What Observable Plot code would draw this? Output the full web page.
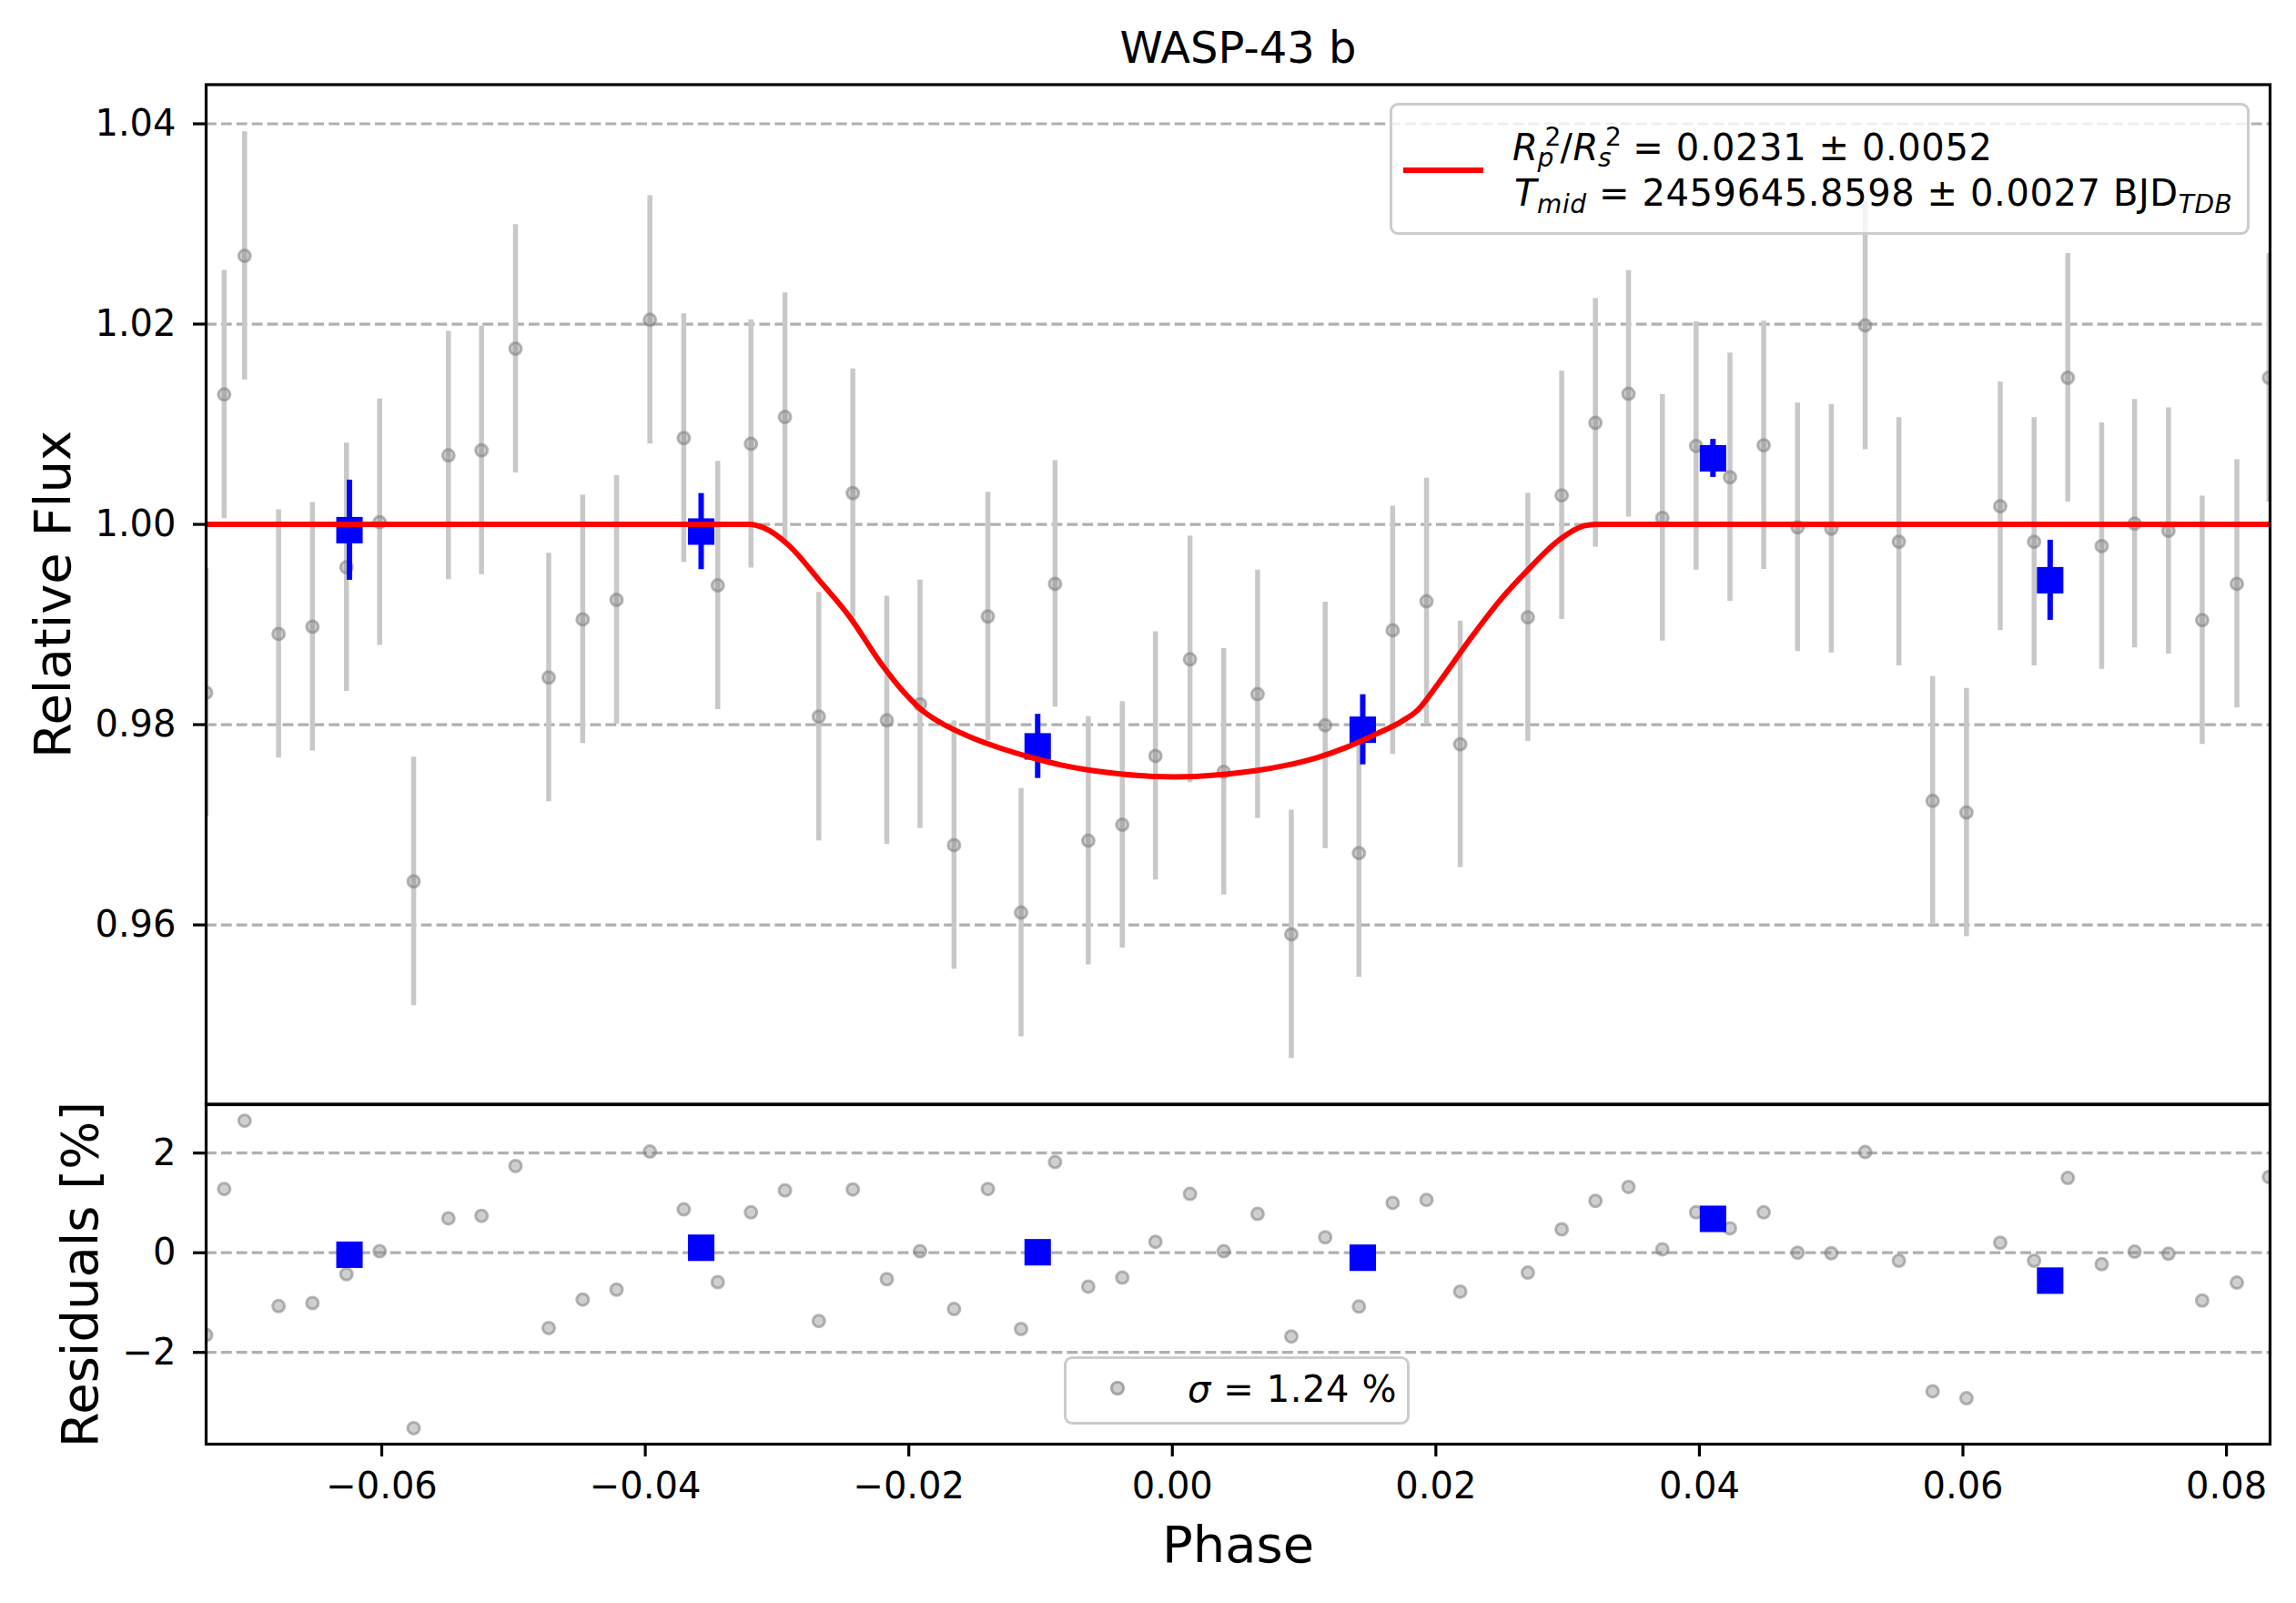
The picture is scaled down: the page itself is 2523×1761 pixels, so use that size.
<!DOCTYPE html>
<html>
<head>
<meta charset="utf-8">
<script src="https://cdn.jsdelivr.net/npm/d3@7"></script>
<script src="https://cdn.jsdelivr.net/npm/@observablehq/plot@0.6"></script>
<style>
html,body{margin:0;padding:0;background:#fff;overflow:hidden;}
#wrap{position:relative;width:2523px;height:1761px;font-family:"DejaVu Sans",sans-serif;overflow:hidden;background:#fff;}
#top,#bot{position:absolute;left:0;}
#top{top:0;}
#bot{top:1213px;}
.leg{position:absolute;box-sizing:border-box;border:3.2px solid #cccccc;border-radius:9px;background:rgba(255,255,255,0.8);}
.line{position:absolute;white-space:nowrap;font-size:40px;line-height:40px;letter-spacing:0.6px;color:#000;font-family:"DejaVu Sans",sans-serif;}
.it{font-style:italic;}
.ss{display:inline-block;position:relative;height:40px;width:24px;}
.ss span{position:absolute;font-size:28px;line-height:18px;}
.ss .sp{left:7px;top:6.3px;}
.ss .sb{left:-1px;top:28.5px;}
.sub{position:relative;top:8px;font-size:28px;line-height:0;}
</style>
</head>
<body>
<div id="wrap">
  <div id="top"></div>
  <div id="bot"></div>
</div>
<script>
// ---- data ----
const phase = [-0.07333, -0.07196, -0.07041, -0.06783, -0.06526, -0.06268, -0.06016, -0.05758, -0.05494, -0.05243,
  -0.04985, -0.04733, -0.04475, -0.04218, -0.03965, -0.03708, -0.03450, -0.03198, -0.02940, -0.02683,
  -0.02425, -0.02167, -0.01915, -0.01657, -0.01400, -0.01148, -0.00890, -0.00638, -0.00380, -0.00128,
  0.00134, 0.00390, 0.00647, 0.00903, 0.01160, 0.01416, 0.01672, 0.01929, 0.02185, 0.02698,
  0.02955, 0.03211, 0.03462, 0.03719, 0.03975, 0.04232, 0.04488, 0.04745, 0.05001, 0.05258,
  0.05514, 0.05770, 0.06027, 0.06283, 0.06540, 0.06796, 0.07053, 0.07303, 0.07560, 0.07816,
  0.08079, 0.08323];
const flux = [0.98319, 1.01297, 1.02681, 0.98906, 0.98978, 0.99572, 1.00022, 0.96435, 1.00688, 1.00739,
  1.01754, 0.98471, 0.99051, 0.99246, 1.02043, 1.00862, 0.99391, 1.00804, 1.01072, 0.98080,
  1.00312, 0.98043, 0.98203, 0.96797, 0.99080, 0.96123, 0.99406, 0.96841, 0.97000, 0.97688,
  0.98652, 0.97529, 0.98304, 0.95906, 0.97993, 0.96717, 0.98942, 0.99232, 0.97804, 0.99072,
  1.00290, 1.01014, 1.01304, 1.00065, 1.00783, 1.00471, 1.00790, 0.99971, 0.99957, 1.01986,
  0.99826, 0.97239, 0.97123, 1.00181, 0.99826, 1.01464, 0.99783, 1.00007, 0.99935, 0.99043,
  0.99406, 1.01464];
const fluxErr = [0.0124, 0.0124, 0.0124, 0.0124, 0.0124, 0.0124, 0.0123, 0.0124, 0.0124, 0.0124,
  0.0124, 0.0124, 0.0124, 0.0124, 0.0124, 0.0124, 0.0124, 0.0124, 0.0124, 0.0124,
  0.0124, 0.0124, 0.0124, 0.0124, 0.0124, 0.0124, 0.0123, 0.0124, 0.0123, 0.0124,
  0.0123, 0.0123, 0.0124, 0.0124, 0.0123, 0.0124, 0.0124, 0.0123, 0.0123, 0.0124,
  0.0124, 0.0124, 0.0123, 0.0123, 0.0124, 0.0124, 0.0124, 0.0124, 0.0124, 0.0124,
  0.0124, 0.0124, 0.0124, 0.0124, 0.0124, 0.0124, 0.0123, 0.0124, 0.0123, 0.0124,
  0.0124, 0.0124];
const resid = [-1.65, 1.28, 2.65, -1.07, -1.01, -0.43, 0.03, -3.52, 0.69, 0.74,
  1.74, -1.51, -0.94, -0.74, 2.03, 0.87, -0.59, 0.81, 1.25, -1.37,
  1.27, -0.53, 0.03, -1.13, 1.28, -1.53, 1.82, -0.68, -0.50, 0.22,
  1.18, 0.03, 0.78, -1.68, 0.31, -1.08, 1.00, 1.06, -0.78, -0.40,
  0.47, 1.04, 1.32, 0.07, 0.81, 0.49, 0.81, 0.00, -0.01, 2.02,
  -0.16, -2.78, -2.92, 0.20, -0.16, 1.50, -0.23, 0.02, -0.02, -0.96,
  -0.60, 1.52];

const binPhase = [-0.06245, -0.03576, -0.01022, 0.01445, 0.04103, 0.06662];
const binFlux = [0.99942, 0.99928, 0.97783, 0.97949, 1.00659, 0.99442];
const binErr = [0.0050, 0.0038, 0.0032, 0.0035, 0.0019, 0.0040];
const binResid = [-0.04, 0.10, 0.01, -0.10, 0.68, -0.56];

const modelPhase = [-0.07333, -0.03209, -0.03094, -0.02909, -0.02679, -0.02449, -0.02218, -0.02035, -0.01896, -0.01758,
  -0.01528, -0.01297, -0.01067, -0.00837, -0.00607, -0.00376, -0.00146, 0.00015, 0.00176, 0.00407,
  0.00637, 0.00867, 0.01098, 0.01328, 0.01558, 0.01742, 0.01858, 0.02019, 0.02249, 0.02479,
  0.02710, 0.02940, 0.03124, 0.03216, 0.08331];
const modelFlux = [1.0, 1.0, 0.99961, 0.99788, 0.99440, 0.99077, 0.98624, 0.98321, 0.98140, 0.98019,
  0.97874, 0.97762, 0.97671, 0.97595, 0.97541, 0.97505, 0.97483, 0.97479, 0.97483, 0.97505,
  0.97541, 0.97595, 0.97671, 0.97777, 0.97913, 0.98034, 0.98140, 0.98412, 0.98835, 0.99229,
  0.99561, 0.99849, 0.99985, 1.0, 1.0];

const xTicks = [-0.06, -0.04, -0.02, 0.00, 0.02, 0.04, 0.06, 0.08];
const yTicks = [0.96, 0.98, 1.00, 1.02, 1.04];
const rTicks = [-2, 0, 2];

// ---- tables ----
const pts = phase.map((p, i) => ({phase: p, flux: flux[i], err: fluxErr[i], resid: resid[i]}));
const bins = binPhase.map((p, i) => ({phase: p, flux: binFlux[i], err: binErr[i], resid: binResid[i]}));
const model = modelPhase.map((p, i) => ({phase: p, flux: modelFlux[i]}));

const W = 2523;
const xDomain = [-0.07333, 0.08331];
const gridStyle = {stroke: "#b0b0b0", strokeOpacity: 1, strokeWidth: 3.2, strokeDasharray: "11.8,5.1"};
const dotStyle = {r: 6.5, fill: "#808080", fillOpacity: 0.38, stroke: "#808080", strokeOpacity: 0.55, strokeWidth: 3, clip: true};
const baseStyle = {fontFamily: "DejaVu Sans", fontSize: "40px", background: "transparent", overflow: "visible", color: "black"};

const topPlot = Plot.plot({
  width: W, height: 1213,
  marginLeft: 226, marginRight: 29, marginTop: 92.5, marginBottom: 0.5,
  x: {domain: xDomain, axis: null},
  y: {domain: [0.9421, 1.04391], axis: null},
  style: baseStyle,
  marks: [
    Plot.gridY(yTicks, gridStyle),
    Plot.ruleX(pts, {x: "phase", y1: d => d.flux - d.err, y2: d => d.flux + d.err, stroke: "#c8c8c8", strokeWidth: 5.5, clip: true}),
    Plot.dot(pts, {x: "phase", y: "flux", ...dotStyle}),
    Plot.ruleX(bins, {x: "phase", y1: d => d.flux - d.err, y2: d => d.flux + d.err, stroke: "blue", strokeWidth: 6}),
    Plot.dot(bins, {x: "phase", y: "flux", symbol: "square", r: 16.4, fill: "blue", stroke: "none"}),
    Plot.line(model, {x: "phase", y: "flux", stroke: "red", strokeWidth: 6, curve: "monotone-x", clip: true}),
    Plot.axisY(yTicks, {tickSize: 14, tickPadding: 19, tickFormat: d3.format(".2f"), fontSize: 40, strokeWidth: 3.2, label: null}),
    Plot.frame({stroke: "black", strokeWidth: 3.2}),
    Plot.text(["WASP-43 b"], {frameAnchor: "top", dy: -24.5, lineAnchor: "bottom", fontSize: 48}),
    Plot.text(["Relative Flux"], {frameAnchor: "left", dx: -150, rotate: -90, textAnchor: "middle", lineAnchor: "bottom", fontSize: 56})
  ]
});

const botPlot = Plot.plot({
  width: W, height: 548,
  marginLeft: 226, marginRight: 29, marginTop: 0, marginBottom: 175,
  x: {domain: xDomain, axis: null},
  y: {domain: [-3.841, 2.972], axis: null},
  style: baseStyle,
  marks: [
    Plot.gridY(rTicks, gridStyle),
    Plot.dot(pts, {x: "phase", y: "resid", ...dotStyle}),
    Plot.dot(bins, {x: "phase", y: "resid", symbol: "square", r: 16.4, fill: "blue", stroke: "none"}),
    Plot.axisY(rTicks, {tickSize: 14, tickPadding: 19, tickFormat: d3.format("d"), fontSize: 40, strokeWidth: 3.2, label: null}),
    Plot.axisX(xTicks, {tickSize: 14, tickPadding: 17, tickFormat: d3.format(".2f"), fontSize: 40, strokeWidth: 3.2, label: null}),
    Plot.frame({stroke: "black", strokeWidth: 3.2}),
    Plot.text(["Residuals [%]"], {frameAnchor: "left", dx: -120, rotate: -90, textAnchor: "middle", lineAnchor: "bottom", fontSize: 56}),
    Plot.text(["Phase"], {frameAnchor: "bottom", dy: 129, lineAnchor: "bottom", fontSize: 56})
  ]
});

document.getElementById("top").appendChild(topPlot);
document.getElementById("bot").appendChild(botPlot);

// ---- legends (HTML overlays) ----
const wrap = document.getElementById("wrap");
function add(html) { const t = document.createElement("div"); t.innerHTML = html; while (t.firstChild) wrap.appendChild(t.firstChild); }
add(`<div class="leg" style="left:1527px;top:113px;width:945px;height:145px;"></div>`);
add(`<div style="position:absolute;left:1542px;top:183.5px;width:88px;height:6px;background:red;"></div>`);
add(`<div class="line" style="left:1662px;top:136px;"><span class="it">R</span><span class="ss"><span class="sp">2</span><span class="sb it">p</span></span>/<span class="it">R</span><span class="ss"><span class="sp">2</span><span class="sb it">s</span></span> = 0.0231 ± 0.0052</div>`);
add(`<div class="line" style="left:1664px;top:192px;"><span class="it">T</span><span class="sub it">mid</span> = 2459645.8598 ± 0.0027 BJD<span class="sub it">TDB</span></div>`);
add(`<div class="leg" style="left:1169px;top:1490px;width:380px;height:75px;"></div>`);
add(`<div style="position:absolute;left:1220px;top:1517px;width:16px;height:16px;box-sizing:border-box;border-radius:50%;background:rgba(128,128,128,0.38);border:3px solid rgba(128,128,128,0.55);"></div>`);
add(`<div class="line" style="left:1305px;top:1506px;"><span class="it">σ</span> = 1.24 %</div>`);
</script>
</body>
</html>
